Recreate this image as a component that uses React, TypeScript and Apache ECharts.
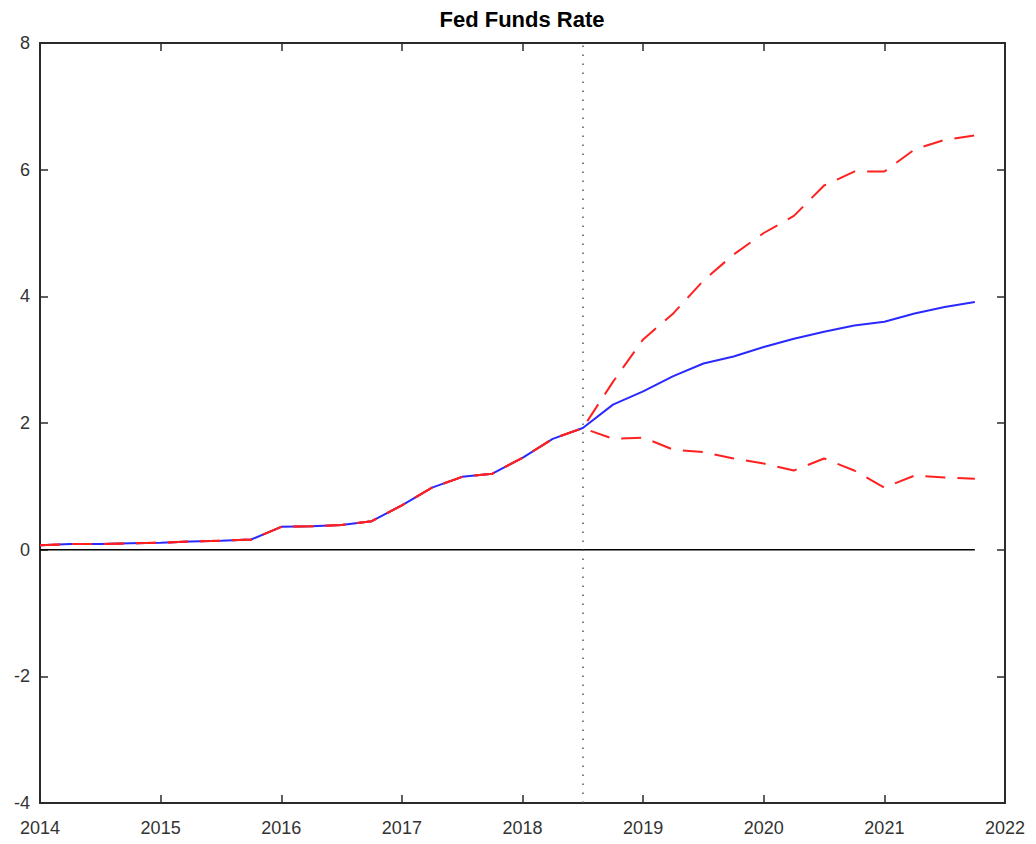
import React, { useEffect, useRef } from "react";
import * as echarts from "echarts";

const dates: number[] = [
  2014.0, 2014.25, 2014.5, 2014.75, 2015.0, 2015.25, 2015.5, 2015.75,
  2016.0, 2016.25, 2016.5, 2016.75, 2017.0, 2017.25, 2017.5, 2017.75,
  2018.0, 2018.25, 2018.5, 2018.75, 2019.0, 2019.25, 2019.5, 2019.75,
  2020.0, 2020.25, 2020.5, 2020.75, 2021.0, 2021.25, 2021.5, 2021.75,
];

// Observed rate 2014Q1 .. 2018Q3
const history: number[] = [
  0.07, 0.09, 0.09, 0.1, 0.11, 0.13, 0.14, 0.16, 0.36, 0.37, 0.39, 0.45,
  0.7, 0.98, 1.15, 1.2, 1.45, 1.75, 1.92,
];

// Forecast 2018Q4 .. 2021Q4
const median: number[] = [2.29, 2.5, 2.74, 2.94, 3.05, 3.2, 3.33, 3.44, 3.54, 3.6, 3.73, 3.83, 3.91];
const upper: number[] = [2.65, 3.32, 3.73, 4.25, 4.66, 5.0, 5.27, 5.75, 5.97, 5.97, 6.32, 6.47, 6.54];
const lower: number[] = [1.75, 1.77, 1.58, 1.54, 1.44, 1.36, 1.25, 1.44, 1.25, 0.98, 1.17, 1.14, 1.12];

const forecastStart = 2018.5;
const xTicks: number[] = [2014, 2015, 2016, 2017, 2018, 2019, 2020, 2021, 2022];
const yTicks: number[] = [-4, -2, 0, 2, 4, 6, 8];
const title = "Fed Funds Rate";

const FONT = "'Liberation Sans', Arial, Helvetica, sans-serif";

export default function App() {
  const ref = useRef<HTMLDivElement>(null);

  useEffect(() => {
    if (!ref.current) return;
    const chart = echarts.init(ref.current, null, { renderer: "svg" });

    const full = (fc: number[]) =>
      dates.map((d, i) => [d, i < history.length ? history[i] : fc[i - history.length]]);

    const frameColor = "#2b2b2b";
    const labelStyle = { color: "#333333", fontSize: 18, fontFamily: FONT };

    const axisCommon = {
      axisLine: { show: true, onZero: false, lineStyle: { color: frameColor, width: 2 } },
      axisTick: { show: true, inside: true, length: 8, lineStyle: { color: frameColor, width: 1.5 } },
      splitLine: { show: false },
    };

    chart.setOption({
      animation: false,
      backgroundColor: "#ffffff",
      graphic: [
        {
          type: "text",
          x: 522,
          y: 19,
          style: {
            text: title,
            textAlign: "center",
            textVerticalAlign: "middle",
            font: `bold 22px ${FONT}`,
            fill: "#000000",
          },
        },
      ],
      grid: { left: 40, right: 31, top: 43, bottom: 41, containLabel: false },
      xAxis: [
        {
          type: "value",
          position: "bottom",
          min: xTicks[0],
          max: xTicks[xTicks.length - 1],
          interval: 1,
          ...axisCommon,
          axisLabel: { ...labelStyle, margin: 16, formatter: (v: number) => String(v) },
        },
        {
          type: "value",
          position: "top",
          min: xTicks[0],
          max: xTicks[xTicks.length - 1],
          interval: 1,
          ...axisCommon,
          axisLabel: { show: false },
        },
      ],
      yAxis: [
        {
          type: "value",
          position: "left",
          min: yTicks[0],
          max: yTicks[yTicks.length - 1],
          interval: 2,
          ...axisCommon,
          axisLabel: { ...labelStyle, margin: 10 },
        },
        {
          type: "value",
          position: "right",
          min: yTicks[0],
          max: yTicks[yTicks.length - 1],
          interval: 2,
          ...axisCommon,
          axisLabel: { show: false },
        },
      ],
      series: [
        {
          type: "line",
          name: "median",
          data: full(median),
          showSymbol: false,
          symbol: "none",
          lineStyle: { color: "#2a2aff", width: 2 },
          z: 2,
          markLine: {
            silent: true,
            symbol: "none",
            label: { show: false },
            lineStyle: { color: "#555555", type: [1.5, 7.5], width: 1.5 },
            data: [{ xAxis: forecastStart }],
          },
        },
        {
          type: "line",
          name: "upper",
          data: full(upper),
          symbol: "none",
          lineStyle: { color: "#ff2020", width: 2, type: [20, 12] },
          z: 3,
        },
        {
          type: "line",
          name: "lower",
          data: full(lower),
          symbol: "none",
          lineStyle: { color: "#ff2020", width: 2, type: [20, 12] },
          z: 3,
        },
        {
          type: "line",
          name: "zero",
          data: [
            [dates[0], 0],
            [dates[dates.length - 1], 0],
          ],
          symbol: "none",
          lineStyle: { color: "#000000", width: 1.5 },
          z: 4,
        },
      ],
    });

    return () => chart.dispose();
  }, []);

  return (
    <div
      ref={ref}
      style={{ position: "fixed", left: 0, top: 0, width: 1036, height: 844, background: "#fff" }}
    />
  );
}
